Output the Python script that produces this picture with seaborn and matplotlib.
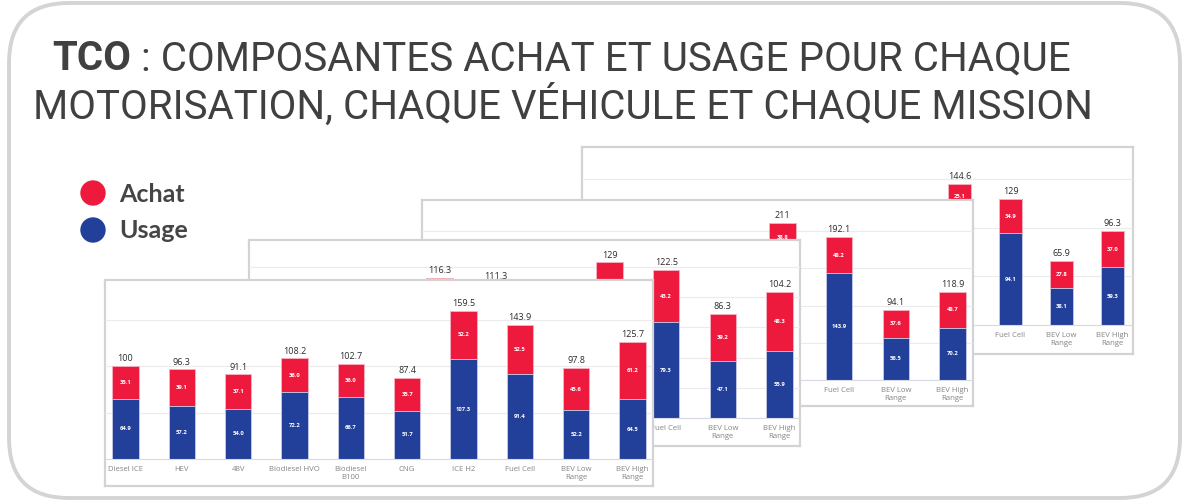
import numpy as np
import pandas as pd
import matplotlib
matplotlib.use("Agg")
import matplotlib.pyplot as plt
import seaborn as sns
from matplotlib.patches import FancyBboxPatch, Circle

# ============================================================
# Data  (panel 1 = front chart, panel 4 = back chart)
# values hidden behind the front charts are estimates
# ============================================================

categories = ["Diesel ICE", "HEV", "48V", "Biodiesel HVO", "Biodiesel\nB100", "CNG",
              "ICE H2", "Fuel Cell", "BEV Low\nRange", "BEV High\nRange"]
categories_p4 = categories[:6] + ["LNG"] + categories[6:]

usage_p1 = [64.9, 57.2, 54.0, 72.2, 66.7, 51.7, 107.3, 91.4, 52.2, 64.5]
achat_p1 = [35.1, 39.1, 37.1, 36.0, 36.0, 35.7, 52.2, 52.5, 45.6, 61.2]

usage_p2 = [67.5, 58.1, 57.0, 80.1, 75.1, 55.3, 85.9, 79.3, 47.1, 55.9]
achat_p2 = [32.5, 37.1, 36.4, 36.2, 36.2, 35.3, 43.1, 43.2, 39.2, 48.3]

usage_p3 = [63.4, 59.8, 58.1, 81.6, 76.5, 56.2, 172.2, 143.9, 56.5, 70.2]
achat_p3 = [36.6, 37.7, 36.7, 36.8, 36.4, 35.5, 38.8, 48.2, 37.6, 48.7]

usage_p4 = [68.2, 63.1, 60.5, 82.0, 79.0, 58.4, 70.1, 119.5, 94.1, 38.1, 59.3]
achat_p4 = [31.8, 33.3, 32.7, 34.7, 34.5, 33.6, 35.2, 25.1, 34.9, 27.8, 37.0]

legend_labels = ["Achat", "Usage"]

RED = "#ee1a3d"
BLUE = "#22409a"

W, H = 1186, 501

sns.set_style("white")
plt.rcParams["font.family"] = ["Open Sans", "DejaVu Sans"]

fig = plt.figure(figsize=(W / 100, H / 100), dpi=100)

# slide background + rounded frame (pixel coordinates)
bg = fig.add_axes([0, 0, 1, 1])
bg.set_xlim(0, W)
bg.set_ylim(H, 0)
bg.axis("off")
bg.add_patch(FancyBboxPatch((9, 3), 1171, 495, boxstyle="round,pad=0,rounding_size=60",
                            fc="white", ec="#d4d4d4", lw=2.8))

title_font = ["Roboto", "DejaVu Sans"]
t1 = bg.text(52, 70, "TCO", fontsize=29, fontweight="bold", color="#404040",
             family=title_font, va="baseline")
bg.annotate(" : COMPOSANTES ACHAT ET USAGE POUR CHAQUE", xy=(1, 0), xycoords=t1,
            ha="left", va="bottom", fontsize=29, color="#404040", family=title_font)
bg.text(33, 119, "MOTORISATION, CHAQUE VÉHICULE ET CHAQUE MISSION", fontsize=29,
        color="#404040", family=title_font, va="baseline")

# legend
for lab, col, y in zip(legend_labels, [RED, BLUE], [193, 230]):
    bg.add_patch(Circle((93, y), 12, color=col))
    bg.text(119, y + 1, lab, fontsize=18, fontweight="bold", color="#454545",
            family=["Lato", "DejaVu Sans"], va="center")


def draw_panel(box, baseline, ymax, step, cats, usage, achat):
    l, t, r, b = box
    n = len(cats)
    frame = fig.add_axes([l / W, 1 - b / H, (r - l) / W, (b - t) / H])
    frame.set_xticks([])
    frame.set_yticks([])
    frame.set_facecolor("white")
    for s in frame.spines.values():
        s.set_color("#d3d3d3")
        s.set_linewidth(1.6)

    ax = fig.add_axes([l / W, 1 - baseline / H, (r - l) / W, (baseline - t) / H])
    ax.patch.set_alpha(0)
    total = [round(u + a, 1) for u, a in zip(usage, achat)]
    df = pd.DataFrame({"cat": cats, "total": total, "usage": usage})

    sns.barplot(data=df, x="cat", y="total", color=RED, saturation=1, width=0.47,
                errorbar=None, edgecolor="#f6b3c0", linewidth=0.6, ax=ax)
    sns.barplot(data=df, x="cat", y="usage", color=BLUE, saturation=1, width=0.47,
                errorbar=None, edgecolor="#c9d2ec", linewidth=0.6, ax=ax)

    ax.bar_label(ax.containers[0], labels=[f"{v:g}" for v in total], padding=2,
                 fontsize=6.5, color="#2b2b2b")
    ax.bar_label(ax.containers[1], labels=[f"{v:.1f}" for v in usage], label_type="center",
                 fontsize=4.2, color="white", fontweight="bold")
    for i, (u, a) in enumerate(zip(usage, achat)):
        ax.text(i, u + a / 2, f"{a:.1f}", ha="center", va="center", fontsize=4.2,
                color="white", fontweight="bold")

    s_px = (r - l - 41) / (n - 1)
    ax.set_xlim(-20.5 / s_px, n - 1 + 20.5 / s_px)
    ax.set_ylim(0, ymax)
    ax.set_yticks(np.arange(0, ymax, step))
    ax.set_yticklabels([])
    ax.grid(axis="y", color="#ebebeb", lw=0.8)
    ax.set_axisbelow(True)
    ax.tick_params(axis="x", length=0, pad=5, labelsize=5.6, labelcolor="#858585")
    ax.tick_params(axis="y", length=0)
    ax.set_xlabel("")
    ax.set_ylabel("")
    for side in ["top", "left", "right"]:
        ax.spines[side].set_visible(False)
    ax.spines["bottom"].set_color("#d5dae4")
    ax.spines["bottom"].set_linewidth(0.8)


# back to front
draw_panel((582, 147, 1133, 354), 325, 182.6, 50, categories_p4, usage_p4, achat_p4)
draw_panel((422, 200, 973, 406), 380, 242, 50, categories, usage_p3, achat_p3)
draw_panel((249, 240, 800, 446), 418, 147.5, 25, categories, usage_p2, achat_p2)
draw_panel((105, 280, 653, 486), 459, 192.5, 50, categories, usage_p1, achat_p1)

fig.savefig("out.png", dpi=100)
